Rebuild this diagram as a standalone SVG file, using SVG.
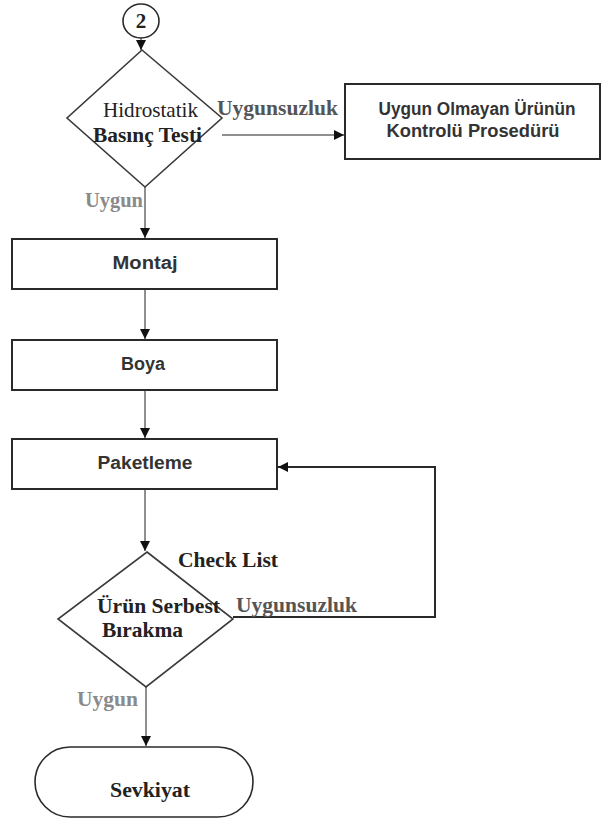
<svg xmlns="http://www.w3.org/2000/svg" width="601" height="823" viewBox="0 0 601 823">
<style>
.box{fill:#fff;stroke:#2a2a2a;stroke-width:2}
.dia{fill:#fff;stroke:#3a3a3a;stroke-width:1.6}
.con{fill:none;stroke:#6a6a6a;stroke-width:1.5}
.dark{fill:none;stroke:#2a2a2a;stroke-width:2}
.sans{font-family:"Liberation Sans",Arial,sans-serif;font-weight:bold;font-size:17.5px;fill:#333;text-anchor:middle}
.serif{font-family:"Liberation Serif","Times New Roman",serif;font-size:21px;fill:#222}
.b{font-weight:bold}
.gray{fill:#8a8a8a;font-weight:bold}
.mid{fill:#555;font-weight:bold}
</style>
<defs>
<marker id="ah" viewBox="0 0 10 10" refX="10" refY="5" markerWidth="10" markerHeight="10" markerUnits="userSpaceOnUse" orient="auto">
<path d="M0,0 L10,5 L0,10 Z" fill="#111"/>
</marker>
</defs>
<g id="connectors">
<line class="con" x1="141" y1="38" x2="141" y2="50" marker-end="url(#ah)"/>
<line class="con" x1="222" y1="135" x2="344" y2="135" marker-end="url(#ah)"/>
<line class="con" x1="145" y1="187" x2="145" y2="238" marker-end="url(#ah)"/>
<line class="con" x1="145" y1="289" x2="145" y2="339" marker-end="url(#ah)"/>
<line class="con" x1="145" y1="390" x2="145" y2="438" marker-end="url(#ah)"/>
<line class="con" x1="145" y1="489" x2="145" y2="551" marker-end="url(#ah)"/>
<polyline class="dark" points="233,617 435,617 435,467 278,467" marker-end="url(#ah)"/>
<line class="con" x1="146" y1="687" x2="146" y2="746" marker-end="url(#ah)"/>
<text class="serif gray" x="85" y="207" textLength="58" lengthAdjust="spacingAndGlyphs">Uygun</text>
<text class="serif mid" x="217" y="115" textLength="121" lengthAdjust="spacingAndGlyphs">Uygunsuzluk</text>
<text class="serif mid" x="236" y="612" textLength="121" lengthAdjust="spacingAndGlyphs">Uygunsuzluk</text>
<text class="serif gray" x="77" y="706" textLength="61" lengthAdjust="spacingAndGlyphs">Uygun</text>
</g>
<g id="start">
<ellipse cx="141" cy="21" rx="18" ry="17" fill="#fff" stroke="#2a2a2a" stroke-width="1.6"/>
<text class="serif b" x="141" y="28" font-size="21" text-anchor="middle">2</text>
</g>
<g id="hidrostatik">
<polygon class="dia" points="142,50 222,118 145,187 67,118"/>
<text class="serif" x="103" y="117" fill="#666" textLength="95" lengthAdjust="spacingAndGlyphs">Hidrostatik</text>
<text class="serif b" x="93" y="142" textLength="109" lengthAdjust="spacingAndGlyphs">Basınç Testi</text>
</g>
<g id="uygun-olmayan">
<rect class="box" x="345" y="84" width="255" height="75"/>
<text class="sans" x="477" y="115" textLength="197" lengthAdjust="spacingAndGlyphs">Uygun Olmayan Ürünün</text>
<text class="sans" x="473" y="137" textLength="173" lengthAdjust="spacingAndGlyphs">Kontrolü Prosedürü</text>
</g>
<g id="montaj">
<rect class="box" x="12" y="239" width="265" height="50"/>
<text class="sans" x="145" y="269" font-size="19.5" textLength="65" lengthAdjust="spacingAndGlyphs">Montaj</text>
</g>
<g id="boya">
<rect class="box" x="12" y="340" width="265" height="50"/>
<text class="sans" x="143" y="370" font-size="19.5" textLength="44" lengthAdjust="spacingAndGlyphs">Boya</text>
</g>
<g id="paketleme">
<rect class="box" x="12" y="439" width="265" height="50"/>
<text class="sans" x="145" y="469" font-size="19.5" textLength="95" lengthAdjust="spacingAndGlyphs">Paketleme</text>
</g>
<g id="urun-serbest">
<polygon class="dia" points="147,552 233,619 146,687 58,619"/>
<text class="serif b" x="178" y="567" textLength="100" lengthAdjust="spacingAndGlyphs">Check List</text>
<text class="serif b" x="97" y="613" textLength="123" lengthAdjust="spacingAndGlyphs">Ürün Serbest</text>
<text class="serif b" x="102" y="637" textLength="81" lengthAdjust="spacingAndGlyphs">Bırakma</text>
</g>
<g id="sevkiyat">
<rect x="35" y="747" width="218" height="70" rx="35" ry="35" fill="#fff" stroke="#2a2a2a" stroke-width="1.6"/>
<text class="serif b" x="110" y="797" textLength="80" lengthAdjust="spacingAndGlyphs">Sevkiyat</text>
</g>
</svg>
